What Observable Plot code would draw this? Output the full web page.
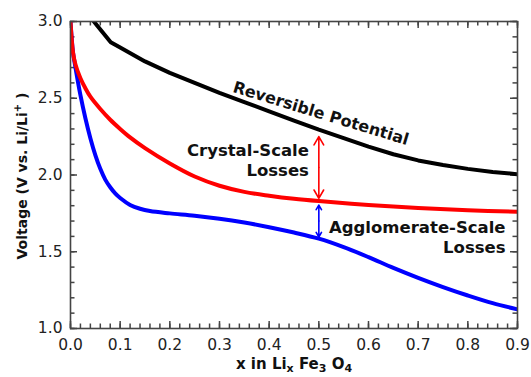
<!DOCTYPE html>
<html><head><meta charset="utf-8">
<script src="https://cdn.jsdelivr.net/npm/d3@7"></script>
<script src="https://cdn.jsdelivr.net/npm/@observablehq/plot@0.6"></script>
<style>body{margin:0;background:#fff}</style>
</head><body><div id="chart"></div>
<script>
const blackX = [0.047,0.081,0.1,0.15,0.2,0.25,0.3,0.35,0.4,0.45,0.5,0.55,0.6,0.65,0.7,0.75,0.8,0.85,0.9];
const blackV = [3.0,2.865,2.83,2.74,2.665,2.6,2.535,2.475,2.415,2.355,2.295,2.24,2.185,2.135,2.095,2.065,2.04,2.02,2.005];
const redX = [0,0.005,0.01,0.02,0.03,0.04,0.06,0.08,0.1,0.12,0.15,0.2,0.25,0.3,0.35,0.4,0.45,0.5,0.6,0.7,0.8,0.9];
const redV = [3.0,2.80,2.72,2.63,2.565,2.51,2.43,2.36,2.30,2.245,2.175,2.075,1.99,1.93,1.89,1.865,1.845,1.83,1.805,1.785,1.77,1.76];
const blueX = [0,0.005,0.01,0.02,0.03,0.04,0.05,0.06,0.07,0.08,0.09,0.1,0.12,0.14,0.16,0.2,0.25,0.3,0.35,0.4,0.45,0.5,0.55,0.6,0.65,0.7,0.75,0.8,0.85,0.9];
const blueV = [3.0,2.80,2.70,2.52,2.37,2.24,2.13,2.04,1.97,1.92,1.88,1.85,1.805,1.78,1.765,1.75,1.735,1.715,1.69,1.66,1.625,1.585,1.53,1.465,1.395,1.33,1.27,1.215,1.165,1.125];

const xTicks = [0,0.1,0.2,0.3,0.4,0.5,0.6,0.7,0.8,0.9];
const xMinor = d3.range(0,0.9001,0.02);
const yTicks = [1.0,1.5,2.0,2.5,3.0];
const yMinor = d3.range(1.0,3.0001,0.1);

const crystalArrow = {x:0.5, top:2.25, bottom:1.848};
const agglomArrow = {x:0.5, top:1.804, bottom:1.596};

const labels = [
  {x:0.504, y:2.40, text:"Reversible Potential", rotate:17},
  {x:0.48, y:2.10, text:"Crystal-Scale\nLosses", rotate:0},
  {x:0.876, y:1.60, text:"Agglomerate-Scale\nLosses", rotate:0}
];

const toPts = (xs, vs) => xs.map((x,i)=>({x, v:vs[i]}));
const black = toPts(blackX, blackV), red = toPts(redX, redV), blue = toPts(blueX, blueV);
const axisColor = "#444";
const font = "DejaVu Sans, sans-serif";

const W = 531, H = 377, ML = 70, MR = 14, MT = 21, MB = 49;
const xDom = [0, 0.9], yDom = [1.0, 3.0];
// convert a tick length in pixels to data units of each scale
const perPxX = (xDom[1] - xDom[0]) / (W - ML - MR);
const perPxY = (yDom[1] - yDom[0]) / (H - MT - MB);
const tickStyle = {stroke: axisColor, strokeWidth: 1.5};
function xTickRules(vals, len) {
  return [
    Plot.ruleX(vals, {x: d => d, y1: yDom[0], y2: yDom[0] + len * perPxY, ...tickStyle}),
    Plot.ruleX(vals, {x: d => d, y1: yDom[1], y2: yDom[1] - len * perPxY, ...tickStyle})
  ];
}
function yTickRules(vals, len) {
  return [
    Plot.ruleY(vals, {y: d => d, x1: xDom[0], x2: xDom[0] + len * perPxX, ...tickStyle}),
    Plot.ruleY(vals, {y: d => d, x1: xDom[1], x2: xDom[1] - len * perPxX, ...tickStyle})
  ];
}

const plot = Plot.plot({
  width: W, height: H,
  marginLeft: ML, marginRight: MR, marginTop: MT, marginBottom: MB,
  style: {fontFamily: font, fontSize: "15.5px", color: "#222", background: "#fff"},
  x: {domain: xDom},
  y: {domain: yDom},
  marks: [
    ...xTickRules(xMinor, 4.5), ...xTickRules(xTicks, 7),
    ...yTickRules(yMinor, 4.5), ...yTickRules(yTicks, 7),
    Plot.line(black, {x:"x", y:"v", stroke:"#000", strokeWidth:4, curve:"linear", clip:true}),
    Plot.line(blue, {x:"x", y:"v", stroke:"#0000ff", strokeWidth:4, curve:"catmull-rom", clip:true}),
    Plot.line(red, {x:"x", y:"v", stroke:"#ff0000", strokeWidth:4, curve:"catmull-rom", clip:true}),
    Plot.arrow([crystalArrow], {x:"x", y1:d=>(d.top+d.bottom)/2, y2:"top", stroke:"#ff0000", strokeWidth:1.6, headLength:9}),
    Plot.arrow([crystalArrow], {x:"x", y1:d=>(d.top+d.bottom)/2, y2:"bottom", stroke:"#ff0000", strokeWidth:1.6, headLength:9}),
    Plot.arrow([agglomArrow], {x:"x", y1:d=>(d.top+d.bottom)/2, y2:"top", stroke:"#0000ff", strokeWidth:1.6, headLength:9}),
    Plot.arrow([agglomArrow], {x:"x", y1:d=>(d.top+d.bottom)/2, y2:"bottom", stroke:"#0000ff", strokeWidth:1.6, headLength:9}),
    Plot.text(labels.filter(d=>d.rotate), {x:"x", y:"y", text:"text", rotate:17, fontWeight:"bold", fontSize:16, fill:"#111", textAnchor:"middle"}),
    Plot.text(labels.filter(d=>!d.rotate), {x:"x", y:"y", text:"text", fontWeight:"bold", fontSize:16.5, fill:"#111", textAnchor:"end", lineHeight:1.2}),
    Plot.axisX({ticks: xTicks, anchor:"bottom", tickSize:0, tickPadding:10, tickFormat:d3.format(".1f"), label:null}),
    Plot.axisY({ticks: yTicks, anchor:"left", tickSize:0, tickPadding:8, tickFormat:d3.format(".1f"), label:null}),
    Plot.frame({stroke: axisColor, strokeWidth: 1.6})
  ]
});

const svg = d3.select(plot);
const xl = svg.append("text").attr("x", 294).attr("y", 369).attr("text-anchor","middle")
  .attr("font-weight","bold").attr("font-size", 15).attr("fill","#111").attr("font-family", font);
xl.append("tspan").text("x in Li");
xl.append("tspan").attr("font-size", 11).attr("dy", 3).text("x");
xl.append("tspan").attr("dy", -3).text("\u00a0Fe");
xl.append("tspan").attr("font-size", 11).attr("dy", 3).text("3");
xl.append("tspan").attr("dy", -3).text("\u00a0O");
xl.append("tspan").attr("font-size", 11).attr("dy", 3).text("4");

const yl = svg.append("text").attr("transform","translate(27,176) rotate(-90)").attr("text-anchor","middle")
  .attr("font-weight","bold").attr("font-size", 14).attr("fill","#111").attr("font-family", font);
yl.append("tspan").text("Voltage (V vs. Li/Li");
yl.append("tspan").attr("font-size", 10).attr("dy", -6).text("+");
yl.append("tspan").attr("dy", 6).text(" )");

document.getElementById("chart").appendChild(plot);
</script>
</body></html>
